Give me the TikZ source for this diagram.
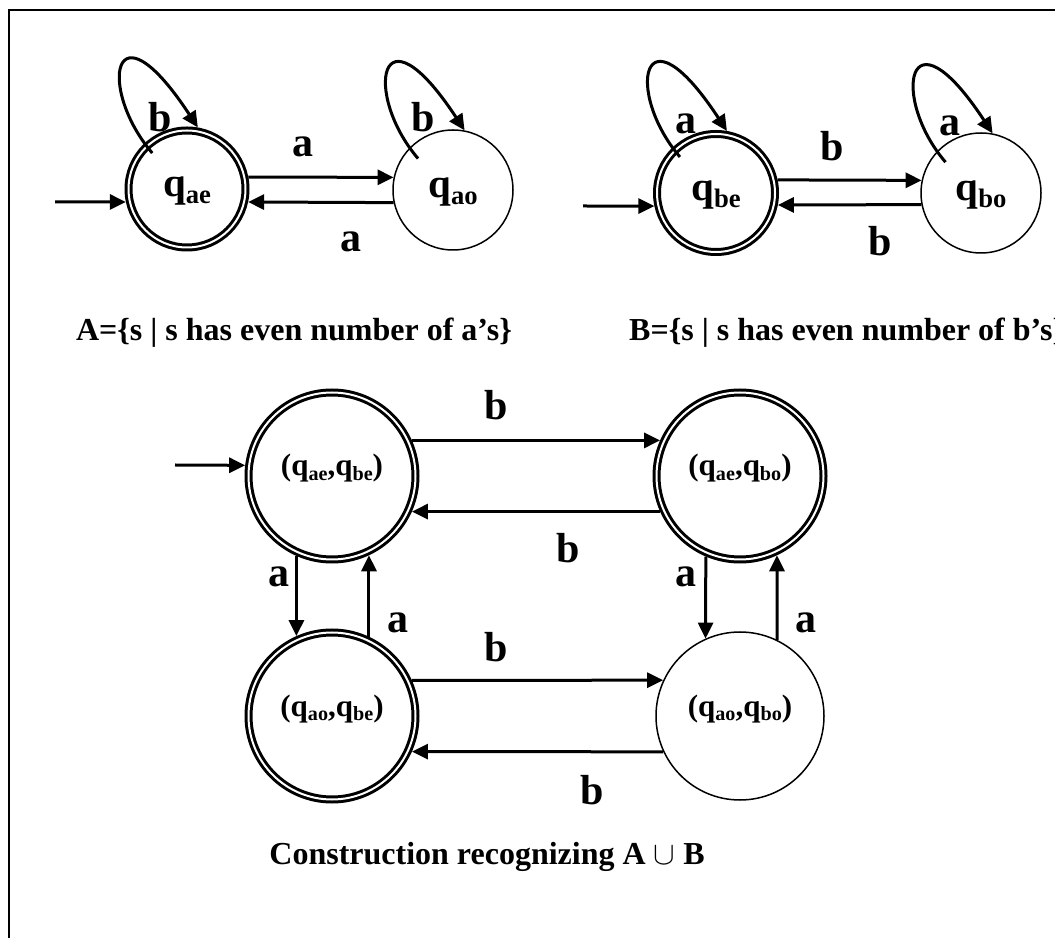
\documentclass[tikz,border=0pt]{standalone}
\usepackage{graphicx}
\usepackage{fontspec}
\setmainfont{Liberation Serif}
\usetikzlibrary{arrows.meta,calc}
\newcommand{\qst}[1]{q\raisebox{-.35ex}{\scalebox{.65}{#1}}}
\tikzset{
  st/.style={circle,draw,line width=1.5pt,minimum size=120pt,inner sep=0pt,
    font=\bfseries\fontsize{41}{45}\selectfont,text height=20pt,text depth=4pt},
  accst/.style={st,double,line width=3pt,double distance=2pt,outer sep=4pt},
  pairst/.style={font=\bfseries\fontsize{31}{35}\selectfont,text height=15pt,text depth=15pt},
  lbl/.style={font=\bfseries\fontsize{42}{46}\selectfont,inner sep=0pt},
  capt/.style={font=\bfseries\fontsize{32}{36}\selectfont,inner sep=0pt},
  trans/.style={line width=3pt,-{Triangle[length=16pt,width=15pt]}}
}
\begin{document}
\begin{tikzpicture}[x=1pt,y=1pt]
\useasboundingbox (0,0) rectangle (1055,938);
\draw[line width=1.5pt] (9,0) -- (9,928) -- (1055,928);
% A
\node[accst,minimum size=117pt] (qae) at (187,749) {\qst{ae}};
\node[st] (qao) at (453,748) {\qst{ao}};
\coordinate (inA) at (55,736);
\draw[trans] (inA) -- (qae.192);
\draw[trans] (qae.11) -- (qao.168);
\draw[trans] (qao.192) -- (qae.348);
\draw[trans] ($(qae)+(134:50)$) .. controls +(-55,64) and +(-86,131) .. (qae.80);
\draw[trans] ($(qao)+(138:47)$) .. controls +(-55,64) and +(-86,131) .. (qao.79);
\node[lbl] (lbA1) at (160,821) {b};
\node[lbl] (lbA2) at (423,821) {b};
\node[lbl] (laA1) at (303,791) {a};
\node[lbl] (laA2) at (351,696) {a};
\node[capt] (capA) at (294,605) {A=\{s | s has even number of a’s\}};
% B
\node[accst,minimum size=118pt] (qbe) at (716,745) {\qst{be}};
\node[st] (qbo) at (981,745) {\qst{bo}};
\coordinate (inB) at (583,732);
\draw[trans] (inB) -- (qbe.192);
\draw[trans] (qbe.12) -- (qbo.168);
\draw[trans] (qbo.191) -- (qbe.349);
\draw[trans] ($(qbe)+(135:51)$) .. controls +(-55,64) and +(-86,131) .. (qbe.80);
\draw[trans] ($(qbo)+(139:47)$) .. controls +(-55,64) and +(-86,131) .. (qbo.79);
\node[lbl] (laB1) at (686,814) {a};
\node[lbl] (laB2) at (950,812) {a};
\node[lbl] (lbB1) at (832,792) {b};
\node[lbl] (lbB2) at (880,697) {b};
\node[capt,anchor=west] (capB) at (629,605) {B=\{s | s has even number of b’s\}};
% product
\node[accst,pairst,minimum size=167pt] (ee) at (332,462) {(\qst{ae},\qst{be})};
\node[accst,pairst,minimum size=167pt] (eo) at (740,462) {(\qst{ae},\qst{bo})};
\node[accst,pairst,minimum size=167pt] (oe) at (332,222) {(\qst{ao},\qst{be})};
\node[st,pairst,minimum size=168pt] (oo) at (740,222) {(\qst{ao},\qst{bo})};
\coordinate (inC) at (175,473);
\draw[trans] (inC) -- (ee.173);
\draw[trans] (ee.24) -- (eo.156);
\draw[trans] (eo.204) -- (ee.336);
\draw[trans] (oe.24) -- (oo.155);
\draw[trans] (oo.205) -- (oe.336);
\draw[trans] (ee.246) -- (oe.114);
\draw[trans] (oe.65) -- (ee.295);
\draw[trans] (eo.247) -- (oo.114);
\draw[trans] (oo.64) -- (eo.295);
\node[lbl] (lb1) at (496,533) {b};
\node[lbl] (lb2) at (568,390) {b};
\node[lbl] (lb3) at (496,291) {b};
\node[lbl] (lb4) at (592,148) {b};
\node[lbl] (la1) at (279,361) {a};
\node[lbl] (la2) at (398,315) {a};
\node[lbl] (la3) at (686,361) {a};
\node[lbl] (la4) at (806,315) {a};
\node[capt] (capC) at (487,81) {Construction recognizing A \scalebox{1.3}{$\cup$} B};
\end{tikzpicture}
\end{document}
